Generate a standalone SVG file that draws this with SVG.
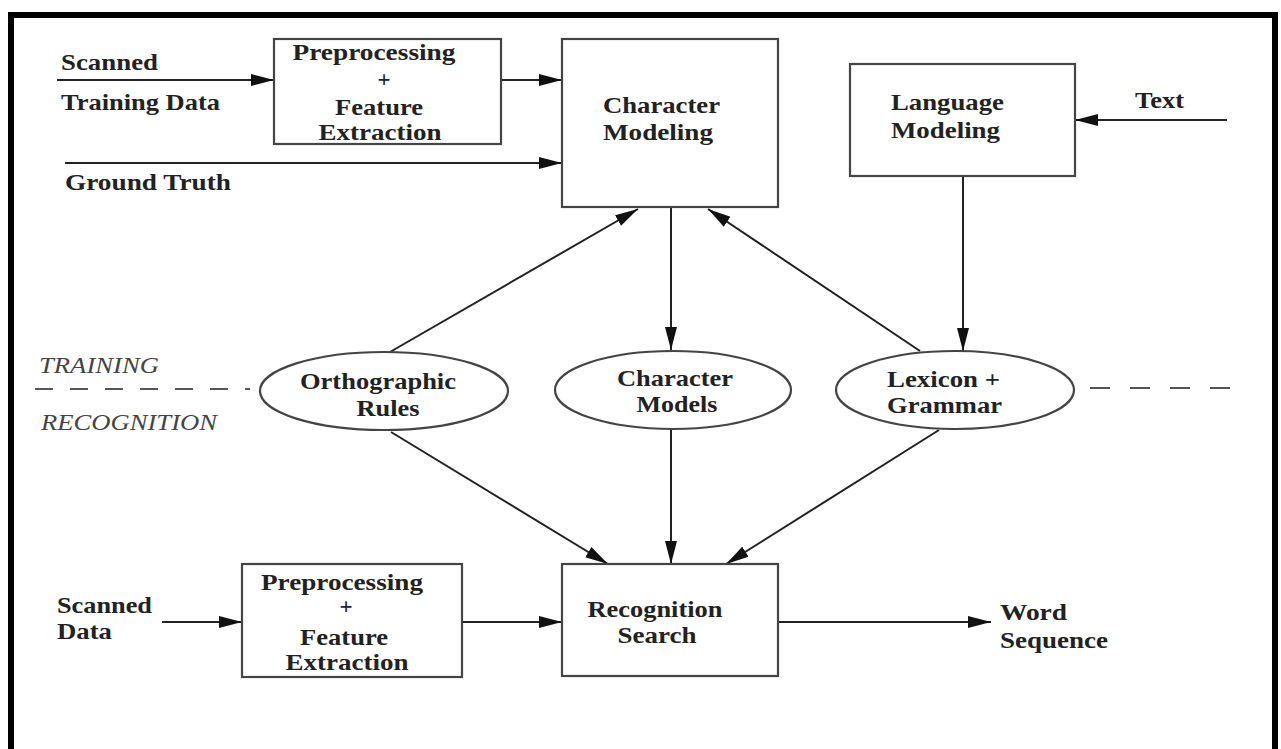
<svg xmlns="http://www.w3.org/2000/svg" width="1281" height="749" viewBox="0 0 1281 749">
<style>
.t{font-family:"Liberation Serif","Times New Roman",serif;font-weight:bold;font-size:23px;fill:#222}
.i{font-family:"Liberation Serif","Times New Roman",serif;font-style:italic;font-size:23px;fill:#444}
.box{fill:#fff;stroke:#444;stroke-width:2.2}
.c{stroke:#222;stroke-width:2;fill:none}
.d{stroke:#555;stroke-width:2.2;fill:none}
.m{text-anchor:middle}
</style>
<defs>
<marker id="ah" markerUnits="userSpaceOnUse" markerWidth="24" markerHeight="14" viewBox="0 0 24 14" refX="23" refY="7" orient="auto">
<path d="M0,1 L23,7 L0,13 Z" fill="#111"/>
</marker>
</defs>
<rect x="0" y="0" width="1281" height="749" fill="#fff"/>
<rect id="frame" x="11" y="15" width="1264" height="800" fill="none" stroke="#000" stroke-width="6"/>

<g id="connectors">
<line class="c" x1="57" y1="80" x2="274" y2="80" marker-end="url(#ah)"/>
<line class="c" x1="501" y1="80" x2="562" y2="80" marker-end="url(#ah)"/>
<line class="c" x1="65" y1="163" x2="562" y2="163" marker-end="url(#ah)"/>
<line class="c" x1="1227" y1="120" x2="1075" y2="120" marker-end="url(#ah)"/>
<line class="c" x1="963" y1="176" x2="963" y2="351" marker-end="url(#ah)"/>
<line class="c" x1="671" y1="207" x2="671" y2="350" marker-end="url(#ah)"/>
<line class="c" x1="390" y1="352" x2="638" y2="209" marker-end="url(#ah)"/>
<line class="c" x1="920" y1="351" x2="708" y2="209" marker-end="url(#ah)"/>
<line class="c" x1="391" y1="432" x2="608" y2="564" marker-end="url(#ah)"/>
<line class="c" x1="671" y1="429" x2="671" y2="564" marker-end="url(#ah)"/>
<line class="c" x1="939" y1="430" x2="726" y2="564" marker-end="url(#ah)"/>
<line class="c" x1="162" y1="622" x2="242" y2="622" marker-end="url(#ah)"/>
<line class="c" x1="462" y1="622" x2="562" y2="622" marker-end="url(#ah)"/>
<line class="c" x1="778" y1="622" x2="991" y2="622" marker-end="url(#ah)"/>
</g>

<g id="divider">
<line class="d" x1="35" y1="389" x2="250" y2="389" stroke-dasharray="18 17"/>
<line class="d" x1="1090" y1="388" x2="1232" y2="388" stroke-dasharray="20 20"/>
<text class="i" x="39" y="373" textLength="120" lengthAdjust="spacingAndGlyphs">TRAINING</text>
<text class="i" x="41" y="430" textLength="176" lengthAdjust="spacingAndGlyphs">RECOGNITION</text>
</g>

<g id="input-labels">
<text class="t" x="61" y="70" textLength="97" lengthAdjust="spacingAndGlyphs">Scanned</text>
<text class="t" x="61" y="110" textLength="159" lengthAdjust="spacingAndGlyphs">Training Data</text>
<text class="t" x="65" y="190" textLength="166" lengthAdjust="spacingAndGlyphs">Ground Truth</text>
<text class="t" x="1135" y="108" textLength="49" lengthAdjust="spacingAndGlyphs">Text</text>
<text class="t" x="57" y="613" textLength="95" lengthAdjust="spacingAndGlyphs">Scanned</text>
<text class="t" x="57" y="639" textLength="55" lengthAdjust="spacingAndGlyphs">Data</text>
<text class="t" x="1000" y="620" textLength="67" lengthAdjust="spacingAndGlyphs">Word</text>
<text class="t" x="1000" y="648" textLength="108" lengthAdjust="spacingAndGlyphs">Sequence</text>
</g>

<g id="preproc-train">
<rect class="box" x="274" y="39" width="227" height="105"/>
<text class="t m" x="374" y="60" textLength="163" lengthAdjust="spacingAndGlyphs">Preprocessing</text>
<text class="t m" x="384" y="87">+</text>
<text class="t m" x="379" y="115" textLength="88" lengthAdjust="spacingAndGlyphs">Feature</text>
<text class="t m" x="380" y="140" textLength="123" lengthAdjust="spacingAndGlyphs">Extraction</text>
</g>

<g id="char-modeling">
<rect class="box" x="562" y="39" width="216" height="168"/>
<text class="t" x="603" y="113" textLength="117" lengthAdjust="spacingAndGlyphs">Character</text>
<text class="t" x="603" y="140" textLength="110" lengthAdjust="spacingAndGlyphs">Modeling</text>
</g>

<g id="lang-modeling">
<rect class="box" x="850" y="64" width="225" height="112"/>
<text class="t" x="891" y="110" textLength="113" lengthAdjust="spacingAndGlyphs">Language</text>
<text class="t" x="891" y="138" textLength="109" lengthAdjust="spacingAndGlyphs">Modeling</text>
</g>

<g id="ortho-rules">
<ellipse class="box" cx="384" cy="391" rx="124" ry="39"/>
<text class="t m" x="378" y="389" textLength="156" lengthAdjust="spacingAndGlyphs">Orthographic</text>
<text class="t m" x="388" y="416" textLength="63" lengthAdjust="spacingAndGlyphs">Rules</text>
</g>

<g id="char-models">
<ellipse class="box" cx="673" cy="390" rx="118" ry="39"/>
<text class="t m" x="675" y="386" textLength="116" lengthAdjust="spacingAndGlyphs">Character</text>
<text class="t m" x="677" y="412" textLength="81" lengthAdjust="spacingAndGlyphs">Models</text>
</g>

<g id="lexicon">
<ellipse class="box" cx="955" cy="390" rx="119" ry="39"/>
<text class="t" x="887" y="387" textLength="113" lengthAdjust="spacingAndGlyphs">Lexicon +</text>
<text class="t" x="887" y="413" textLength="115" lengthAdjust="spacingAndGlyphs">Grammar</text>
</g>

<g id="preproc-recog">
<rect class="box" x="242" y="564" width="220" height="113"/>
<text class="t m" x="342" y="590" textLength="162" lengthAdjust="spacingAndGlyphs">Preprocessing</text>
<text class="t m" x="346" y="614">+</text>
<text class="t m" x="344" y="645" textLength="88" lengthAdjust="spacingAndGlyphs">Feature</text>
<text class="t m" x="347" y="670" textLength="123" lengthAdjust="spacingAndGlyphs">Extraction</text>
</g>

<g id="recog-search">
<rect class="box" x="562" y="564" width="216" height="112"/>
<text class="t m" x="655" y="617" textLength="135" lengthAdjust="spacingAndGlyphs">Recognition</text>
<text class="t m" x="657" y="643" textLength="79" lengthAdjust="spacingAndGlyphs">Search</text>
</g>
</svg>
